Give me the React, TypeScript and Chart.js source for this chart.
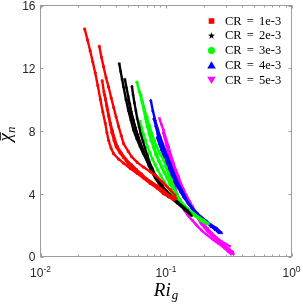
import React, { useEffect, useRef } from "react";
import { Chart, registerables } from "chart.js";

Chart.register(...registerables);

type P = [number, number];

// ---- data (Ri_g, mean chi_n) ----
const cr1a: P[] = [[0.0225,14.5],[0.0237,13.8],[0.0249,13.1],[0.0261,12.4],[0.0273,11.7],[0.0286,10.9],[0.030,10.0],[0.0314,9.2],[0.0328,8.5],[0.0338,7.9],[0.0349,7.4],[0.0365,6.9],[0.0383,6.55],[0.042,6.2],[0.0459,5.95],[0.052,5.6],[0.0587,5.3],[0.066,5.0],[0.0749,4.65],[0.085,4.35],[0.0955,4.0],[0.105,3.8],[0.115,3.6]];
const cr1b: P[] = [[0.0294,13.4],[0.0306,12.7],[0.0318,12.1],[0.0333,11.4],[0.0349,10.8],[0.0366,10.1],[0.0383,9.5],[0.040,8.9],[0.0419,8.3],[0.044,7.7],[0.0459,7.2],[0.050,6.7],[0.0534,6.35],[0.059,6.0],[0.066,5.7],[0.075,5.4],[0.0844,5.1],[0.095,4.7],[0.108,4.25],[0.118,3.9]];
const cr1c: P[] = [[0.031,11.2],[0.032,10.5],[0.033,10.0],[0.034,9.4],[0.035,8.9],[0.036,8.4],[0.037,7.9],[0.0385,7.4],[0.040,7.0],[0.043,6.6],[0.046,6.3],[0.050,5.9],[0.055,5.6],[0.061,5.3],[0.068,5.0],[0.076,4.75],[0.085,4.5],[0.095,4.2],[0.105,3.9],[0.12,3.7]];
const cr1d: P[] = [[0.0325,10.3],[0.0338,9.6],[0.035,9.0],[0.036,8.5],[0.0375,8.0],[0.039,7.5],[0.041,7.0],[0.044,6.6],[0.048,6.2],[0.053,5.85],[0.058,5.55],[0.064,5.25],[0.070,4.95],[0.079,4.65],[0.09,4.35],[0.10,4.05],[0.11,3.8]];

const cr2a: P[] = [[0.0424,12.3],[0.0435,11.8],[0.0447,11.3],[0.0459,10.8],[0.048,10.0],[0.0502,9.3],[0.0525,8.7],[0.0551,8.05],[0.0585,7.5],[0.0622,7.0],[0.066,6.55],[0.0703,6.15],[0.0745,5.7],[0.0794,5.3],[0.0845,4.95],[0.0897,4.65],[0.095,4.4],[0.1013,4.15],[0.108,3.9],[0.1147,3.6],[0.123,3.4],[0.1331,3.2],[0.144,2.95],[0.155,2.75]];
const cr2b: P[] = [[0.0535,10.85],[0.0547,10.3],[0.056,9.8],[0.0575,9.3],[0.059,8.8],[0.061,8.3],[0.063,7.8],[0.0655,7.35],[0.068,6.9],[0.071,6.45],[0.074,6.0],[0.078,5.6],[0.082,5.2],[0.087,4.85],[0.092,4.5],[0.098,4.25],[0.105,4.0],[0.112,3.75],[0.12,3.5],[0.13,3.25],[0.14,3.0],[0.15,2.8],[0.16,2.6]];
const cr2c: P[] = [[0.047,11.3],[0.0485,10.75],[0.050,10.2],[0.0515,9.7],[0.053,9.2],[0.055,8.7],[0.057,8.2],[0.0595,7.75],[0.062,7.3],[0.065,6.85],[0.068,6.4],[0.072,6.0],[0.076,5.6],[0.081,5.25],[0.086,4.9],[0.093,4.55],[0.10,4.2],[0.107,3.95],[0.115,3.7],[0.125,3.45],[0.135,3.2]];
const cr2d: P[] = [[0.050,10.0],[0.052,9.4],[0.054,8.8],[0.057,8.2],[0.060,7.6],[0.063,7.15],[0.066,6.7],[0.0695,6.25],[0.073,5.8],[0.077,5.4],[0.082,5.0],[0.088,4.65],[0.095,4.3],[0.102,4.05],[0.11,3.8],[0.12,3.55],[0.13,3.3],[0.14,3.1],[0.15,2.9]];

const cr3a: P[] = [[0.0587,11.1],[0.0613,10.5],[0.0641,9.95],[0.067,9.4],[0.0703,8.9],[0.0735,8.35],[0.077,7.85],[0.0805,7.4],[0.0844,7.0],[0.0897,6.55],[0.0955,6.15],[0.10,5.7],[0.1047,5.3],[0.11,4.9],[0.1147,4.45],[0.122,4.0],[0.1292,3.6],[0.14,3.2],[0.155,2.85],[0.17,2.65],[0.1861,2.45],[0.2,2.3],[0.217,2.1]];
const cr3b: P[] = [[0.063,10.3],[0.065,9.8],[0.067,9.3],[0.069,8.8],[0.071,8.3],[0.0735,7.85],[0.076,7.4],[0.0795,6.95],[0.083,6.5],[0.0875,6.1],[0.092,5.7],[0.097,5.35],[0.102,5.0],[0.108,4.6],[0.115,4.2],[0.122,3.85],[0.13,3.5],[0.14,3.25],[0.15,3.0],[0.165,2.75],[0.18,2.5],[0.195,2.3],[0.21,2.1]];
const cr3c: P[] = [[0.066,9.6],[0.068,9.1],[0.070,8.6],[0.0725,8.15],[0.075,7.7],[0.078,7.3],[0.081,6.9],[0.0845,6.5],[0.088,6.1],[0.0925,5.75],[0.097,5.4],[0.1025,5.05],[0.108,4.7],[0.114,4.35],[0.12,4.0],[0.128,3.65],[0.137,3.3],[0.148,3.05],[0.16,2.8],[0.175,2.55],[0.19,2.3]];
const cr3d: P[] = [[0.062,8.6],[0.064,8.2],[0.066,7.8],[0.0685,7.4],[0.071,7.0],[0.0745,6.6],[0.078,6.2],[0.082,5.85],[0.086,5.5],[0.091,5.15],[0.096,4.8],[0.103,4.45],[0.11,4.1],[0.117,3.8],[0.125,3.5],[0.135,3.25],[0.145,3.0],[0.157,2.8],[0.17,2.6],[0.185,2.4],[0.2,2.2]];

const cr4a: P[] = [[0.0757,9.95],[0.0785,9.3],[0.0819,8.7],[0.0857,8.15],[0.0897,7.65],[0.094,7.2],[0.0982,6.8],[0.103,6.35],[0.1077,5.95],[0.113,5.5],[0.118,5.1],[0.125,4.65],[0.1331,4.25],[0.142,3.8],[0.1509,3.4],[0.163,3.05],[0.1758,2.75],[0.192,2.5],[0.2105,2.25],[0.23,2.0],[0.2528,1.8],[0.2774,1.5]];
const cr4b: P[] = [[0.080,8.8],[0.083,8.3],[0.086,7.8],[0.09,7.35],[0.094,6.9],[0.0985,6.5],[0.103,6.1],[0.108,5.7],[0.113,5.3],[0.119,4.9],[0.126,4.5],[0.134,4.1],[0.142,3.7],[0.153,3.35],[0.165,3.0],[0.18,2.7],[0.195,2.4],[0.212,2.15],[0.23,1.9],[0.248,1.7],[0.265,1.5]];
const cr4c: P[] = [[0.085,7.6],[0.0885,7.2],[0.092,6.8],[0.096,6.4],[0.10,6.0],[0.105,5.6],[0.11,5.2],[0.116,4.85],[0.122,4.5],[0.13,4.15],[0.138,3.8],[0.148,3.45],[0.16,3.1],[0.175,2.8],[0.19,2.5],[0.207,2.25],[0.225,2.0],[0.243,1.8],[0.26,1.6]];

const cr5a: P[] = [[0.0886,8.8],[0.092,8.4],[0.0955,8.05],[0.10,7.5],[0.1047,7.0],[0.1095,6.45],[0.1147,5.95],[0.12,5.5],[0.1257,5.1],[0.131,4.65],[0.1376,4.25],[0.146,3.8],[0.155,3.4],[0.165,3.05],[0.1758,2.75],[0.187,2.45],[0.1982,2.1],[0.214,1.8],[0.2309,1.5],[0.253,1.2],[0.2774,0.95],[0.30,0.8],[0.3223,0.65]];
const cr5b: P[] = [[0.095,7.9],[0.0985,7.45],[0.102,7.0],[0.106,6.55],[0.11,6.1],[0.115,5.7],[0.12,5.3],[0.126,4.9],[0.132,4.5],[0.139,4.1],[0.147,3.7],[0.156,3.35],[0.165,3.0],[0.175,2.7],[0.185,2.4],[0.197,2.1],[0.21,1.8],[0.227,1.5],[0.245,1.2],[0.267,0.95],[0.29,0.7],[0.315,0.45],[0.345,0.15]];
const cr5c: P[] = [[0.10,7.2],[0.104,6.75],[0.108,6.3],[0.113,5.9],[0.118,5.5],[0.124,5.1],[0.13,4.7],[0.137,4.3],[0.145,3.9],[0.153,3.55],[0.162,3.2],[0.171,2.85],[0.18,2.5],[0.19,2.25],[0.2,2.0],[0.215,1.7],[0.23,1.4],[0.25,1.15],[0.27,0.9],[0.295,0.65],[0.32,0.4],[0.34,0.25]];
const cr5d: P[] = [[0.105,6.5],[0.1095,6.1],[0.114,5.7],[0.1195,5.3],[0.125,4.9],[0.132,4.5],[0.14,4.1],[0.147,3.75],[0.155,3.4],[0.163,3.05],[0.172,2.7],[0.181,2.4],[0.19,2.1],[0.202,1.85],[0.215,1.6],[0.232,1.35],[0.25,1.1],[0.275,0.85],[0.3,0.6],[0.32,0.45],[0.34,0.3]];
const cr5e: P[] = [[0.11,5.4],[0.115,4.8],[0.12,4.2],[0.125,3.7],[0.132,3.3],[0.14,2.95],[0.15,2.6],[0.162,2.3],[0.175,2.0],[0.19,1.7],[0.21,1.4],[0.235,1.1],[0.26,0.85],[0.29,0.55],[0.31,0.35],[0.33,0.15]];

const seriesCurves: P[][][] = [
  [cr1a, cr1b, cr1c, cr1d],
  [cr2a, cr2b, cr2c, cr2d],
  [cr3a, cr3b, cr3c, cr3d],
  [cr4a, cr4b, cr4c],
  [cr5a, cr5b, cr5c, cr5d, cr5e],
];
const seriesLabels = ["CR = 1e-3", "CR = 2e-3", "CR = 3e-3", "CR = 4e-3", "CR = 5e-3"];
const seriesColors = ["#ff0000", "#000000", "#00ff00", "#0000ff", "#ff00ff"];
const seriesMarkers = ["rect", "star", "circle", "triangle", "triangleDown"];

const xTickValues = [0.01, 0.1, 1];
const xTickExponents = ["-2", "-1", "0"];
const xMinorTicks = [2, 3, 4, 5, 6, 7, 8, 9];
const yTickValues = [0, 4, 8, 12, 16];

const AXIS_COLOR = "#9c9c9c";
const TEXT_COLOR = "#262626";
const SANS = '"Liberation Sans", Arial, sans-serif';
const SERIF = '"Liberation Serif", "Times New Roman", serif';

function drawMarker(ctx: CanvasRenderingContext2D, kind: string, x: number, y: number, color: string) {
  ctx.save();
  ctx.fillStyle = color;
  ctx.beginPath();
  if (kind === "rect") {
    ctx.rect(x - 2.8, y - 2.8, 5.6, 5.6);
  } else if (kind === "circle") {
    ctx.arc(x, y, 3.6, 0, Math.PI * 2);
  } else if (kind === "triangle") {
    ctx.moveTo(x, y - 4);
    ctx.lineTo(x + 4.3, y + 3.2);
    ctx.lineTo(x - 4.3, y + 3.2);
    ctx.closePath();
  } else if (kind === "triangleDown") {
    ctx.moveTo(x, y + 4);
    ctx.lineTo(x + 4.3, y - 3.2);
    ctx.lineTo(x - 4.3, y - 3.2);
    ctx.closePath();
  } else if (kind === "star") {
    const R = 3.6, r = 1.5;
    for (let k = 0; k < 10; k++) {
      const ang = -Math.PI / 2 + (k * Math.PI) / 5;
      const rad = k % 2 === 0 ? R : r;
      const px = x + rad * Math.cos(ang);
      const py = y + rad * Math.sin(ang);
      if (k === 0) ctx.moveTo(px, py);
      else ctx.lineTo(px, py);
    }
    ctx.closePath();
  }
  ctx.fill();
  ctx.restore();
}

const framePlugin = {
  id: "matlabFrame",
  afterDatasetsDraw(chart: any) {
    const { ctx, chartArea: a, scales } = chart;
    const xs = scales.x;
    const ys = scales.y;
    ctx.save();
    // box
    ctx.strokeStyle = AXIS_COLOR;
    ctx.lineWidth = 1;
    ctx.strokeRect(a.left, a.top, a.right - a.left, a.bottom - a.top);
    // x ticks
    const tl = 3;
    ctx.beginPath();
    for (let d = 0; d < xTickValues.length; d++) {
      const base = xTickValues[d];
      const px = Math.round(xs.getPixelForValue(base)) + 0.5;
      ctx.moveTo(px, a.bottom); ctx.lineTo(px, a.bottom - tl);
      ctx.moveTo(px, a.top); ctx.lineTo(px, a.top + tl);
      if (d < xTickValues.length - 1) {
        for (const m of xMinorTicks) {
          const mx = Math.round(xs.getPixelForValue(base * m)) + 0.5;
          ctx.moveTo(mx, a.bottom); ctx.lineTo(mx, a.bottom - 2);
          ctx.moveTo(mx, a.top); ctx.lineTo(mx, a.top + 2);
        }
      }
    }
    for (const v of yTickValues) {
      const py = Math.round(ys.getPixelForValue(v)) + 0.5;
      ctx.moveTo(a.left, py); ctx.lineTo(a.left + tl, py);
      ctx.moveTo(a.right, py); ctx.lineTo(a.right - tl, py);
    }
    ctx.stroke();

    // y tick labels
    ctx.fillStyle = TEXT_COLOR;
    ctx.font = `12px ${SANS}`;
    ctx.textAlign = "right";
    ctx.textBaseline = "middle";
    for (const v of yTickValues) {
      const py = ys.getPixelForValue(v);
      ctx.fillText(String(v), a.left - 5, py + 1.5);
    }

    // x tick labels 10^k
    ctx.textAlign = "left";
    ctx.textBaseline = "alphabetic";
    for (let d = 0; d < xTickValues.length; d++) {
      const px = xs.getPixelForValue(xTickValues[d]);
      ctx.font = `12px ${SANS}`;
      const wb = ctx.measureText("10").width;
      ctx.font = `8.5px ${SANS}`;
      const we = ctx.measureText(xTickExponents[d]).width;
      const x0 = px - (wb + we) / 2;
      ctx.font = `12px ${SANS}`;
      ctx.fillText("10", x0, 277);
      ctx.font = `8.5px ${SANS}`;
      ctx.fillText(xTickExponents[d], x0 + wb, 271.5);
    }

    // x title Ri_g
    ctx.fillStyle = "#000";
    const cx = (a.left + a.right) / 2;
    ctx.font = `italic 19px ${SERIF}`;
    const wRi = ctx.measureText("Ri").width;
    ctx.font = `italic 13px ${SERIF}`;
    const wg = ctx.measureText("g").width;
    const xs0 = cx - (wRi + wg + 1) / 2;
    ctx.font = `italic 19px ${SERIF}`;
    ctx.fillText("Ri", xs0, 296);
    ctx.font = `italic 13px ${SERIF}`;
    ctx.fillText("g", xs0 + wRi + 1, 298.5);

    // y title  (overline chi, subscript n), rotated
    ctx.save();
    ctx.translate(11, 134);
    ctx.rotate(-Math.PI / 2);
    ctx.font = `italic 19px ${SERIF}`;
    const wc = ctx.measureText("\u03C7").width;
    ctx.font = `italic 13px ${SERIF}`;
    const wn = ctx.measureText("n").width;
    const u0 = -(wc + wn) / 2;
    ctx.font = `italic 19px ${SERIF}`;
    ctx.fillText("\u03C7", u0, 0);
    ctx.font = `italic 13px ${SERIF}`;
    ctx.fillText("n", u0 + wc, 3.5);
    ctx.strokeStyle = "#000";
    ctx.lineWidth = 0.8;
    ctx.beginPath();
    ctx.moveTo(u0 + 1, -10.5);
    ctx.lineTo(u0 + wc + 1, -10.5);
    ctx.stroke();
    ctx.restore();

    // legend inside plot, top right
    ctx.font = `12.5px ${SERIF}`;
    (ctx as any).wordSpacing = "2px";
    ctx.textAlign = "left";
    ctx.textBaseline = "alphabetic";
    for (let i = 0; i < seriesLabels.length; i++) {
      const ry = 21 + i * 14.75;
      drawMarker(ctx, seriesMarkers[i], 211.5, ry, seriesColors[i]);
      ctx.fillStyle = "#000";
      ctx.fillText(seriesLabels[i], 225, ry + 3.6);
    }
    (ctx as any).wordSpacing = "0px";
    ctx.restore();
  },
};

export default function App() {
  const ref = useRef<HTMLCanvasElement | null>(null);
  useEffect(() => {
    if (!ref.current) return;
    const datasets: any[] = [];
    seriesCurves.forEach((curves, i) => {
      const marker = seriesMarkers[i];
      curves.forEach((curve) => {
        datasets.push({
          label: seriesLabels[i],
          data: curve.map(([x, y]) => ({ x, y })),
          borderColor: seriesColors[i],
          backgroundColor: seriesColors[i],
          borderWidth: 2.4,
          pointRadius: 1.4,
          pointBorderWidth: 0.8,
          pointStyle: marker === "triangleDown" ? "triangle" : marker,
          pointRotation: marker === "triangleDown" ? 180 : 0,
          showLine: true,
          tension: 0,
          fill: false,
        });
      });
    });
    const chart = new Chart(ref.current, {
      type: "line",
      data: { datasets },
      options: {
        responsive: false,
        animation: false,
        devicePixelRatio: 1,
        layout: { padding: { left: 40.5, right: 11.5, top: 5.5, bottom: 48.5 } },
        plugins: { legend: { display: false }, tooltip: { enabled: false } },
        scales: {
          x: { type: "logarithmic", min: 0.01, max: 1, display: false },
          y: { type: "linear", min: 0, max: 16, display: false },
        },
      },
      plugins: [framePlugin],
    });
    return () => chart.destroy();
  }, []);
  return (
    <div style={{ position: "absolute", left: 0, top: 0, width: 303, height: 305, background: "#fff" }}>
      <canvas ref={ref} width={303} height={305} style={{ width: 303, height: 305, display: "block" }} />
    </div>
  );
}
